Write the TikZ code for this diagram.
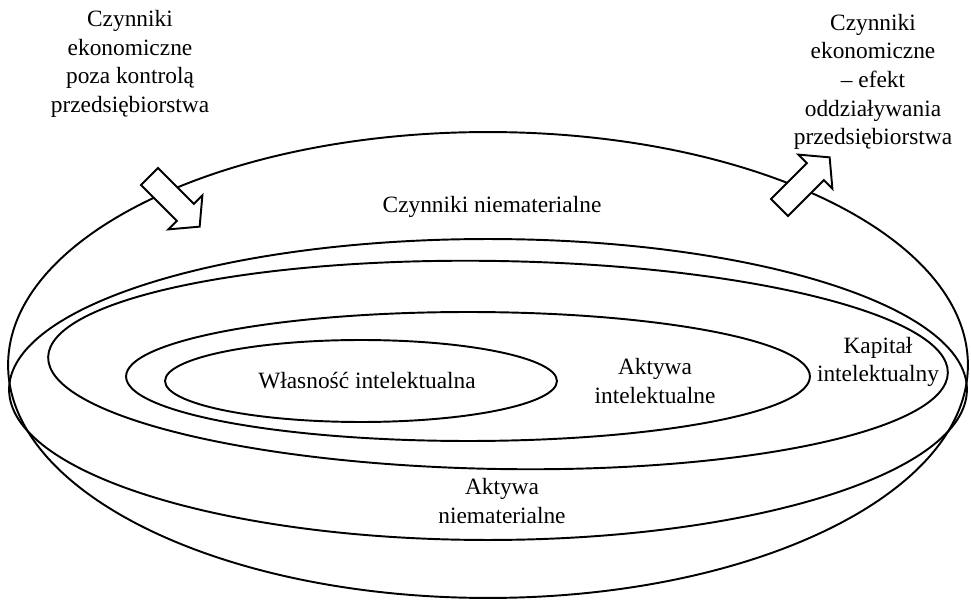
\documentclass[tikz,border=0pt]{standalone}
\usepackage{fontspec}
\setmainfont{Liberation Serif}
\usetikzlibrary{shapes.geometric,shapes.arrows}
\tikzset{
  region/.style={ellipse, draw, line width=1.1pt, inner sep=0pt},
  txt/.style={align=center, inner sep=0pt, font=\fontsize{13.3}{16.3}\selectfont},
  blockarrow/.style={single arrow, draw, fill=white, line width=1.1pt,
    inner xsep=0pt, inner ysep=0.22cm, minimum height=1.42cm,
    single arrow head extend=0.24cm, single arrow tip angle=100}
}
\begin{document}
\begin{tikzpicture}[x=0.02cm, y=-0.02cm]
  \useasboundingbox (0,0) rectangle (971,601);

  \node[region, minimum width=19.2cm, minimum height=9.32cm] (outer) at (488,365) {};
  \node[region, minimum width=19.16cm, minimum height=6.02cm] (aktniem) at (488,389.5) {};
  \node[region, minimum width=18cm, minimum height=4.16cm, rotate=-1] (kapital) at (498,365) {};
  \node[region, minimum width=13.68cm, minimum height=2.58cm] (aktint) at (468,376.5) {};
  \node[region, minimum width=7.84cm, minimum height=1.64cm] (wlasnosc) at (361,381) {};

  \node[txt] (lczn) at (492,207) {Czynniki niematerialne};
  \node[txt] (lkapital) at (878,362) {Kapitał\\intelektualny};
  \node[txt] (laktint) at (655,381) {Aktywa\\intelektualne};
  \node[txt] (lwlasnosc) at (367,381) {Własność intelektualna};
  \node[txt] (laktniem) at (502,501) {Aktywa\\niematerialne};

  \node[txt] (zewn) at (130,64) {Czynniki\\ekonomiczne\\poza kontrolą\\przedsiębiorstwa};
  \node[txt] (efekt) at (873,82) {Czynniki\\ekonomiczne\\– efekt\\oddziaływania\\przedsiębiorstwa};

  \node[blockarrow, rotate=-45] (arrin) at (171,198) {};
  \node[blockarrow, rotate=45] (arrout) at (801,186) {};
\end{tikzpicture}
\end{document}
